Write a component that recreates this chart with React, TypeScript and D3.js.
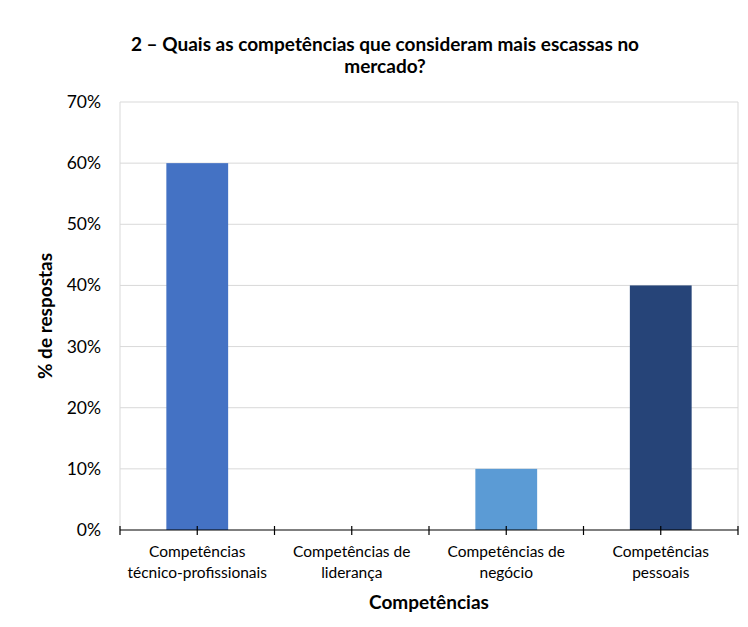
import React from "react";
import * as d3 from "d3";

const categories: string[][] = [
  ["Competências", "técnico-profissionais"],
  ["Competências de", "liderança"],
  ["Competências de", "negócio"],
  ["Competências", "pessoais"],
];
const values: number[] = [0.6, 0, 0.1, 0.4];
const colors: string[] = ["#4472C4", "#4472C4", "#5B9BD5", "#264478"];
const yTicks: number[] = [0, 0.1, 0.2, 0.3, 0.4, 0.5, 0.6, 0.7];
const titleLines: string[] = ["2 – Quais as competências que consideram mais escassas no", "mercado?"];
const xTitle = "Competências";
const yTitle = "% de respostas";

const W = 748;
const H = 627;
const left = 120;
const right = 738;
const top = 102;
const bottom = 530;
const font = "Lato, 'Open Sans', sans-serif";

export default function App() {
  const x = d3.scaleBand<number>().domain(d3.range(categories.length)).range([left, right]).padding(0);
  const y = d3.scaleLinear().domain([0, 0.7]).range([bottom, top]);
  const step = x.step();
  const barW = step * 0.4;
  const halfTicks = d3.range(categories.length * 2 + 1).map((i) => left + (i * step) / 2);

  return (
    <svg width={W} height={H} style={{ position: "absolute", left: 0, top: 0, background: "#fff" }} fontFamily={font}>
      <rect x={0} y={0} width={W} height={H} fill="#fff" />
      {titleLines.map((t, i) => (
        <text key={i} x={385} y={51 + i * 22} textAnchor="middle" fontSize={19} fontWeight={700} fill="#000">
          {t}
        </text>
      ))}
      {yTicks.map((t) => (
        <g key={t}>
          {t > 0 && <line x1={left} x2={right} y1={y(t)} y2={y(t)} stroke="#d9d9d9" strokeWidth={1} />}
          <text x={101} y={y(t) + 6} textAnchor="end" fontSize={17.5} fill="#000">
            {d3.format(".0%")(t)}
          </text>
        </g>
      ))}
      <line x1={left} x2={left} y1={top} y2={bottom} stroke="#d9d9d9" />
      <line x1={right} x2={right} y1={top} y2={bottom} stroke="#d9d9d9" />
      {values.map((v, i) => (
        <rect
          key={i}
          x={(x(i) as number) + (step - barW) / 2}
          y={y(v)}
          width={barW}
          height={y(0) - y(v)}
          fill={colors[i]}
        />
      ))}
      <line x1={left} x2={right} y1={bottom} y2={bottom} stroke="#000" strokeWidth={1.2} />
      {halfTicks.map((tx, i) => (
        <line key={i} x1={tx} x2={tx} y1={bottom - 4} y2={bottom + 5} stroke="#000" strokeWidth={1.2} />
      ))}
      {categories.map((lines, i) => (
        <text key={i} x={(x(i) as number) + step / 2} y={557} textAnchor="middle" fontSize={15.5} fill="#000">
          {lines.map((l, j) => (
            <tspan key={j} x={(x(i) as number) + step / 2} dy={j === 0 ? 0 : 21}>
              {l}
            </tspan>
          ))}
        </text>
      ))}
      <text x={429} y={609} textAnchor="middle" fontSize={19} fontWeight={700} fill="#000">
        {xTitle}
      </text>
      <text
        transform={`translate(52, ${(top + bottom) / 2}) rotate(-90)`}
        textAnchor="middle"
        fontSize={19}
        fontWeight={700}
        fill="#000"
      >
        {yTitle}
      </text>
    </svg>
  );
}
